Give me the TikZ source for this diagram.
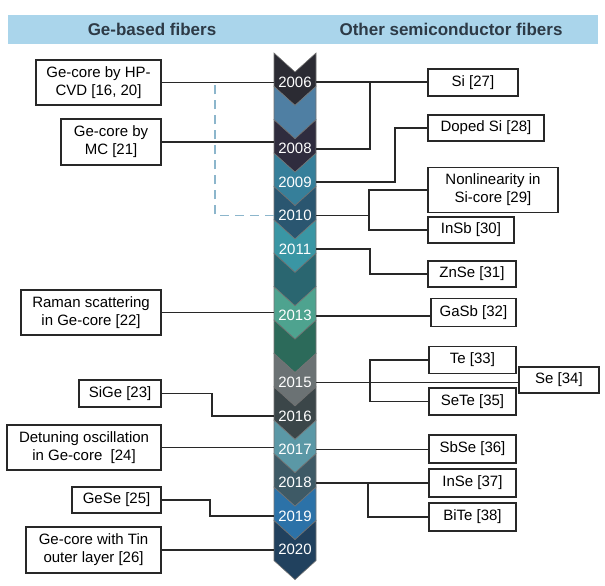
\documentclass[tikz,border=0pt]{standalone}
\usepackage{fontspec}
\setmainfont{Liberation Sans}
\usetikzlibrary{calc}
\usepackage{xcolor}
\definecolor{barblue}{RGB}{170,213,235}
\definecolor{headtext}{RGB}{45,58,70}
\definecolor{boxgray}{RGB}{40,40,40}
\definecolor{dashblue}{RGB}{140,182,204}
\definecolor{cA}{RGB}{43,43,51}
\definecolor{cB}{RGB}{79,127,163}
\definecolor{cC}{RGB}{47,44,62}
\definecolor{cD}{RGB}{54,127,154}
\definecolor{cE}{RGB}{42,86,112}
\definecolor{cF}{RGB}{58,150,164}
\definecolor{cG}{RGB}{42,102,112}
\definecolor{cH}{RGB}{78,163,143}
\definecolor{cI}{RGB}{44,106,90}
\definecolor{cJ}{RGB}{107,114,116}
\definecolor{cK}{RGB}{59,70,73}
\definecolor{cL}{RGB}{91,152,166}
\definecolor{cM}{RGB}{62,90,102}
\definecolor{cN}{RGB}{44,114,168}
\definecolor{cO}{RGB}{33,65,94}

\begin{document}
\begin{tikzpicture}[
    x=1pt, y=-1pt,
    fbox/.style={rectangle, draw=boxgray, fill=white, line width=1.9pt,
                 align=center, inner sep=2pt, font=\fontsize{15}{18}\selectfont},
    lbox/.style={fbox, anchor=east},
    rbox/.style={fbox, anchor=west},
    year/.style={minimum width=42pt, inner sep=0pt, text=white,
                 font=\fontsize{15}{18}\selectfont},
    head/.style={font=\fontsize{17}{20}\selectfont\bfseries, text=headtext},
    link/.style={draw=boxgray, line width=1.6pt},
    dashlink/.style={draw=dashblue, line width=1.7pt, dash pattern=on 9pt off 6pt}
]
\useasboundingbox (0,0) rectangle (605,586);

% Header bar
\node[rectangle, fill=barblue, minimum width=590pt, minimum height=29pt, inner sep=0pt] (bar) at (303,29.5) {};
\node[head] (hleft) at (152,29.5) {Ge-based fibers};
\node[head] (hright) at (451,29.5) {Other semiconductor fibers};

% Timeline chevrons
\foreach \col [count=\i from 0] in {cA,cB,cC,cD,cE,cF,cG,cH,cI,cJ,cK,cL,cM,cN,cO} {
    \pgfmathsetmacro\t{53+\i*33.4}
    \pgfmathsetmacro\h{\i==14 ? 40 : 33.4}
    \filldraw[fill=\col, draw=black!55, line width=0.6pt]
        (274,\t) -- (295,{\t+19}) -- (316,\t) -- (316,{\t+\h})
        -- (295,{\t+\h+19}) -- (274,{\t+\h}) -- cycle;
}

% Years
\foreach \yr in {2006,2008,2009,2010,2011,2013,2015,2016,2017,2018,2019,2020} {
    \node[year] (y\yr) at (295,{82+(\yr-2006)*33.4}) {\yr};
}

% Ge-based fibers
\node[lbox, minimum width=125pt, minimum height=45pt] (hpcvd) at (162,82.5) {Ge-core by HP-\\CVD [16, 20]};
\node[lbox, minimum width=100pt, minimum height=46pt] (mc) at (162,142) {Ge-core by\\MC [21]};
\node[lbox, minimum width=140pt, minimum height=45pt] (raman) at (162,312.5) {Raman scattering\\in Ge-core [22]};
\node[lbox, minimum width=82pt, minimum height=27pt] (sige) at (162,393.5) {SiGe [23]};
\node[lbox, minimum width=154pt, minimum height=45pt] (detuning) at (162,447.5) {Detuning oscillation\\in Ge-core~ [24]};
\node[lbox, minimum width=89pt, minimum height=26pt] (gese) at (162,500) {GeSe [25]};
\node[lbox, minimum width=135pt, minimum height=46pt] (tin) at (162,550) {Ge-core with Tin\\outer layer [26]};

% Other semiconductor fibers
\node[rbox, minimum width=90pt, minimum height=27pt] (si) at (427,82.5) {Si [27]};
\node[rbox, minimum width=116pt, minimum height=26pt] (doped) at (427,128) {Doped Si [28]};
\node[rbox, minimum width=130pt, minimum height=45pt] (nonlin) at (427,190) {Nonlinearity in\\Si-core [29]};
\node[rbox, minimum width=86pt, minimum height=26pt] (insb) at (427,230) {InSb [30]};
\node[rbox, minimum width=88pt, minimum height=26pt] (znse) at (427,274) {ZnSe [31]};
\node[rbox, minimum width=85pt, minimum height=28pt] (gasb) at (430,312.5) {GaSb [32]};
\node[rbox, minimum width=87pt, minimum height=27pt] (te) at (428,360) {Te [33]};
\node[rbox, minimum width=80pt, minimum height=26pt] (se) at (518,380) {Se [34]};
\node[rbox, minimum width=87pt, minimum height=27pt] (sete) at (428,401.5) {SeTe [35]};
\node[rbox, minimum width=87pt, minimum height=28pt] (sbse) at (428,449) {SbSe [36]};
\node[rbox, minimum width=87pt, minimum height=28pt] (inse) at (428,483) {InSe [37]};
\node[rbox, minimum width=87pt, minimum height=28pt] (bite) at (428,517) {BiTe [38]};

% Left links
\draw[dashlink] (y2010.west) -| ([xshift=53pt]hpcvd.east);
\draw[link] (hpcvd.east) -- (hpcvd.east -| y2006.west);
\draw[link] (mc.east) -- (mc.east -| y2008.west);
\draw[link] (raman.east) -- (raman.east -| y2013.west);
\draw[link] (sige.east) -- ++(50,0) |- (y2016.west);
\draw[link] (detuning.east) -- (detuning.east -| y2017.west);
\draw[link] (gese.east) -- ++(48,0) |- (y2019.west);
\draw[link] (tin.east) -- (tin.east -| y2020.west);

% Right links
\draw[link] (y2006.east) -- (y2006.east -| si.west);
\draw[link] (si.west) -- ++(-57,0) |- (y2008.east);
\draw[link] (y2009.east) -- ++(79,0) |- (doped.west);
\draw[link] (nonlin.west) -- ++(-58,0) |- (insb.west);
\draw[link] (y2010.east) -- ++(53,0);
\draw[link] (y2011.east) -- ++(54,0) |- (znse.west);
\draw[link] (y2013.east) -- (y2013.east -| gasb.west);
\draw[link] (y2015.east) -- (y2015.east -| se.west);
\draw[link] (te.west) -- ++(-58,0) |- (sete.west);
\draw[link] (y2017.east) -- (y2017.east -| sbse.west);
\draw[link] (y2018.east) -- (y2018.east -| inse.west);
\draw[link] (inse.west) -- ++(-60,0) |- (bite.west);

\end{tikzpicture}
\end{document}
